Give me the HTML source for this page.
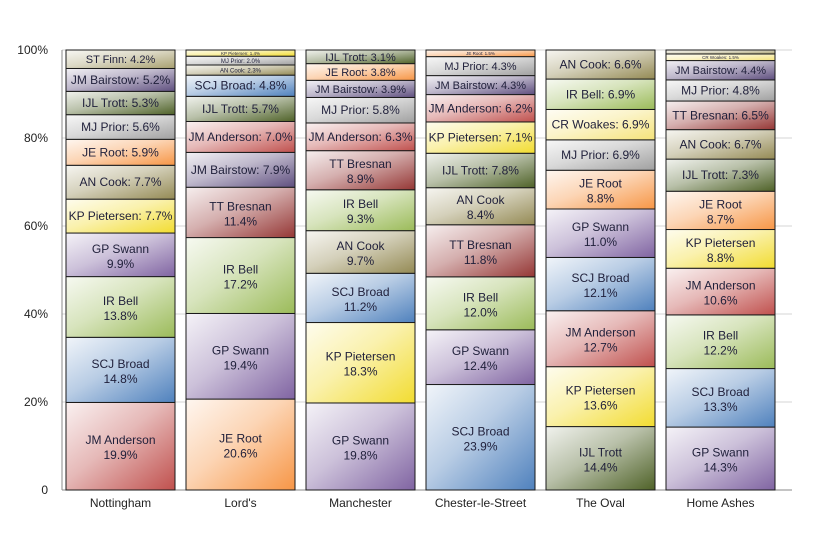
<!DOCTYPE html>
<html><head><meta charset="utf-8"><style>
body{margin:0;background:#fff;}
svg{display:block;font-family:"Liberation Sans",sans-serif;}
</style></head><body>
<svg id="c" width="840" height="560" xmlns="http://www.w3.org/2000/svg"></svg>
<script>
const C={"JM Anderson":"#c0504d","SCJ Broad":"#4f81bd","IR Bell":"#9bbb59","GP Swann":"#8064a2","KP Pietersen":"#f2dc30","AN Cook":"#948a54","JE Root":"#f79646","MJ Prior":"#a0a0a0","IJL Trott":"#4f6228","JM Bairstow":"#5f4f7f","ST Finn":"#a8a070","TT Bresnan":"#953735","CR Woakes":"#f5e37a"};
const data=[
["Nottingham",[["JM Anderson",19.9],["SCJ Broad",14.8],["IR Bell",13.8],["GP Swann",9.9],["KP Pietersen",7.7],["AN Cook",7.7],["JE Root",5.9],["MJ Prior",5.6],["IJL Trott",5.3],["JM Bairstow",5.2],["ST Finn",4.2]]],
["Lord's",[["JE Root",20.6],["GP Swann",19.4],["IR Bell",17.2],["TT Bresnan",11.4],["JM Bairstow",7.9],["JM Anderson",7.0],["IJL Trott",5.7],["SCJ Broad",4.8],["AN Cook",2.3],["MJ Prior",2.0],["KP Pietersen",1.4]]],
["Manchester",[["GP Swann",19.8],["KP Pietersen",18.3],["SCJ Broad",11.2],["AN Cook",9.7],["IR Bell",9.3],["TT Bresnan",8.9],["JM Anderson",6.3],["MJ Prior",5.8],["JM Bairstow",3.9],["JE Root",3.8],["IJL Trott",3.1]]],
["Chester-le-Street",[["SCJ Broad",23.9],["GP Swann",12.4],["IR Bell",12.0],["TT Bresnan",11.8],["AN Cook",8.4],["IJL Trott",7.8],["KP Pietersen",7.1],["JM Anderson",6.2],["JM Bairstow",4.3],["MJ Prior",4.3],["JE Root",1.5]]],
["The Oval",[["IJL Trott",14.4],["KP Pietersen",13.6],["JM Anderson",12.7],["SCJ Broad",12.1],["GP Swann",11.0],["JE Root",8.8],["MJ Prior",6.9],["CR Woakes",6.9],["IR Bell",6.9],["AN Cook",6.6]]],
["Home Ashes",[["GP Swann",14.3],["SCJ Broad",13.3],["IR Bell",12.2],["JM Anderson",10.6],["KP Pietersen",8.8],["JE Root",8.7],["IJL Trott",7.3],["AN Cook",6.7],["TT Bresnan",6.5],["MJ Prior",4.8],["JM Bairstow",4.4],["CR Woakes",1.5],["ST Finn",0.9]]]
];
let s='<defs>';
let i=0;const gid={};
for(const k in C){gid[k]='g'+i;s+=`<linearGradient id="g${i}" x1="0" y1="0" x2="1" y2="1"><stop offset="0" stop-color="${C[k]}" stop-opacity="0.08"/><stop offset="0.45" stop-color="${C[k]}" stop-opacity="0.4"/><stop offset="1" stop-color="${C[k]}" stop-opacity="1"/></linearGradient>`;i++;}
s+='</defs>';
const y0=490,H=440;
for(let p=0;p<=5;p++){const y=y0-p*88;
 if(p>0)s+=`<line x1="62" y1="${y}" x2="792" y2="${y}" stroke="#d4d4d4" stroke-width="1"/>`;
 s+=`<text x="48" y="${y+4}" font-size="12" text-anchor="end" fill="#222">${p*20}${p?'%':''}</text>`;}
s+=`<line x1="62" y1="490" x2="792" y2="490" stroke="#888"/><line x1="62" y1="50" x2="62" y2="490" stroke="#888"/>`;
data.forEach((d,ci)=>{
 const x=66+ci*120,w=109;
 const tot=d[1].reduce((a,b)=>a+b[1],0);
 let cum=0;
 for(const [n,v] of d[1]){
  const yb=y0-cum/tot*H; cum+=v; const yt=y0-cum/tot*H; const h=yb-yt;
  s+=`<rect x="${x}" y="${yt}" width="${w}" height="${h}" fill="#fff"/><rect x="${x}" y="${yt}" width="${w}" height="${h}" fill="url(#${gid[n]})" stroke="#1a1a1a" stroke-width="1"/>`;
  const cx=x+w/2,cy=(yt+yb)/2;
  if(n==="ST Finn"&&v<1)continue;
  if(v>=8){
   s+=`<text x="${cx}" y="${cy-2}" font-size="12" text-anchor="middle" fill="#1f1f3a">${n}</text><text x="${cx}" y="${cy+13}" font-size="12" text-anchor="middle" fill="#1f1f3a">${v.toFixed(1)}%</text>`;
  } else if(v>=3){
   const fs=v<4.5?11:12;
   s+=`<text x="${cx}" y="${cy+4}" font-size="${fs}" text-anchor="middle" fill="#1f1f3a">${n}: ${v.toFixed(1)}%</text>`;
  } else {
   const fs=v<1.8?4.5:6;
   s+=`<text x="${cx}" y="${cy+fs/2-0.5}" font-size="${fs}" text-anchor="middle" fill="#1f1f3a">${n}: ${v.toFixed(1)}%</text>`;
  }
 }
 s+=`<text x="${x+w/2}" y="507" font-size="12" text-anchor="middle" fill="#222">${d[0]}</text>`;
});
document.getElementById('c').innerHTML=s;
</script>
</body></html>
